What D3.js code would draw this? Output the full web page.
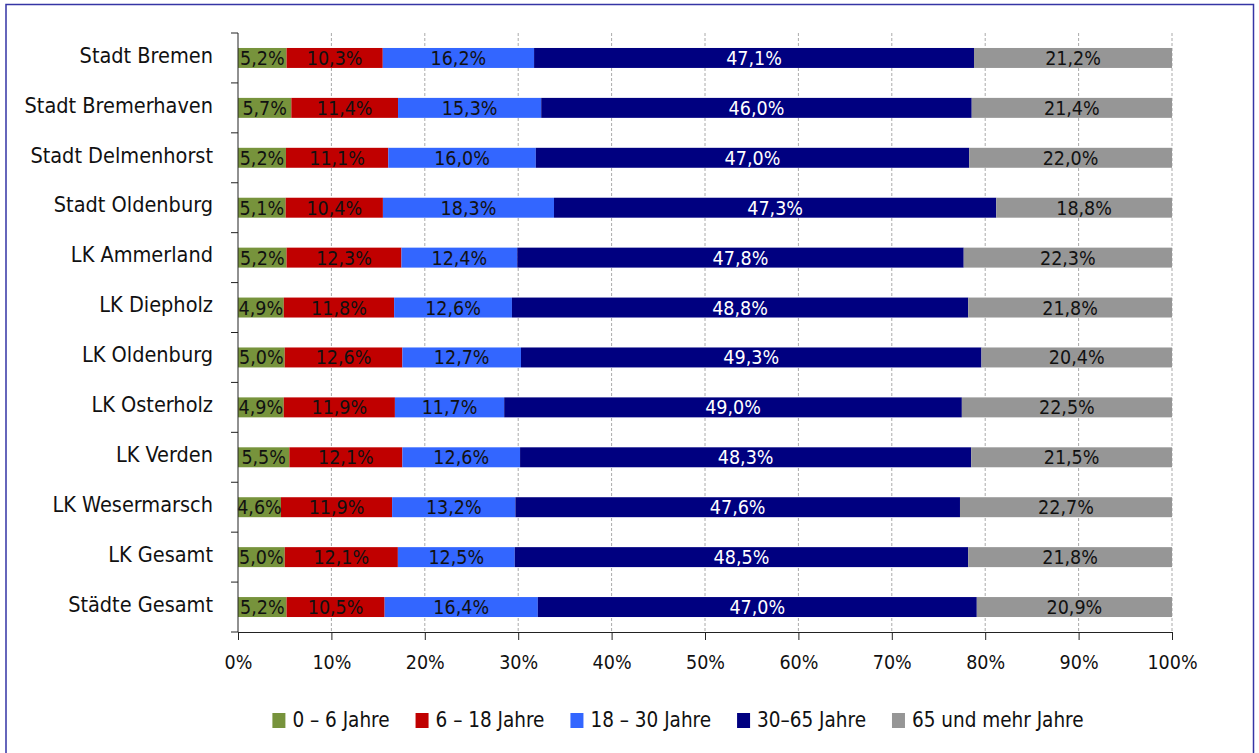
<!DOCTYPE html>
<html>
<head>
<meta charset="utf-8">
<script src="https://cdn.jsdelivr.net/npm/d3@7"></script>
<style>
  body { margin: 0; background: #fff; }
  svg text { font-family: "DejaVu Sans Condensed", "DejaVu Sans", sans-serif; font-stretch: condensed; }
</style>
</head>
<body>
<svg id="chart" width="1259" height="753"></svg>
<script>
// categories (top to bottom)
var regions = ['Stadt Bremen', 'Stadt Bremerhaven', 'Stadt Delmenhorst', 'Stadt Oldenburg',
    'LK Ammerland', 'LK Diepholz', 'LK Oldenburg', 'LK Osterholz', 'LK Verden',
    'LK Wesermarsch', 'LK Gesamt', 'Städte Gesamt'];

// age groups
var groups = ['0 – 6 Jahre', '6 – 18 Jahre', '18 – 30 Jahre', '30–65 Jahre', '65 und mehr Jahre'];
var groupColors = ['#77933C', '#C00000', '#3366FF', '#000080', '#969696'];
var labelColors = ['#111', '#111', '#111', '#fff', '#111'];

// shares in percent, one array per age group
var age0_6   = [5.2, 5.7, 5.2, 5.1, 5.2, 4.9, 5.0, 4.9, 5.5, 4.6, 5.0, 5.2];
var age6_18  = [10.3, 11.4, 11.1, 10.4, 12.3, 11.8, 12.6, 11.9, 12.1, 11.9, 12.1, 10.5];
var age18_30 = [16.2, 15.3, 16.0, 18.3, 12.4, 12.6, 12.7, 11.7, 12.6, 13.2, 12.5, 16.4];
var age30_65 = [47.1, 46.0, 47.0, 47.3, 47.8, 48.8, 49.3, 49.0, 48.3, 47.6, 48.5, 47.0];
var age65    = [21.2, 21.4, 22.0, 18.8, 22.3, 21.8, 20.4, 22.5, 21.5, 22.7, 21.8, 20.9];

var xTicks = [0, 0.1, 0.2, 0.3, 0.4, 0.5, 0.6, 0.7, 0.8, 0.9, 1];

var series = [age0_6, age6_18, age18_30, age30_65, age65];
var table = regions.map(function(r, i) {
    var row = { region: r };
    groups.forEach(function(g, j) { row[g] = series[j][i]; });
    return row;
});

var svg = d3.select('#chart');

// outer frame
svg.append('rect')
    .attr('x', 6).attr('y', 4.5)
    .attr('width', 1247.5).attr('height', 760)
    .attr('fill', 'none')
    .attr('stroke', '#3535A5')
    .attr('stroke-width', 1.5);

var margin = { top: 33, left: 238 },
    plotW = 934,
    plotH = 599;

var g = svg.append('g').attr('transform', 'translate(' + margin.left + ',' + margin.top + ')');

var xScale = d3.scaleLinear().domain([0, 1]).range([0, plotW]);
var yScale = d3.scaleBand().domain(regions).range([0, plotH]).paddingInner(0.6).paddingOuter(0.3);

// gridlines
g.append('g')
    .selectAll('line')
    .data(xTicks.slice(1))
    .enter().append('line')
    .attr('x1', function(d) { return xScale(d); })
    .attr('x2', function(d) { return xScale(d); })
    .attr('y1', 0).attr('y2', plotH)
    .attr('stroke', '#aaa')
    .attr('stroke-dasharray', '3,2');

var stack = d3.stack().keys(groups).offset(d3.stackOffsetExpand);
var layers = stack(table);

var layer = g.selectAll('g.layer')
    .data(layers)
    .enter().append('g')
    .attr('class', 'layer')
    .attr('fill', function(d, i) { return groupColors[i]; });

layer.selectAll('rect')
    .data(function(d) { return d; })
    .enter().append('rect')
    .attr('x', function(d) { return xScale(d[0]); })
    .attr('width', function(d) { return xScale(d[1]) - xScale(d[0]); })
    .attr('y', function(d) { return yScale(d.data.region); })
    .attr('height', yScale.bandwidth());

// value labels
layers.forEach(function(l, i) {
    g.append('g').selectAll('text')
        .data(l)
        .enter().append('text')
        .attr('x', function(d) { return xScale((d[0] + d[1]) / 2); })
        .attr('y', function(d) { return yScale(d.data.region) + yScale.bandwidth() / 2; })
        .attr('dy', '0.36em')
        .attr('text-anchor', 'middle')
        .attr('font-size', 19.5)
        .attr('fill', labelColors[i])
        .text(function(d) { return d3.format('.1f')(d.data[l.key]).replace('.', ',') + '%'; });
});

// y axis with ticks at band boundaries
var yAxisG = g.append('g');
yAxisG.append('line').attr('x1', 0).attr('x2', 0).attr('y1', 0).attr('y2', plotH).attr('stroke', '#222');
yAxisG.selectAll('line.tk')
    .data(d3.range(regions.length + 1))
    .enter().append('line')
    .attr('class', 'tk')
    .attr('x1', -7).attr('x2', 0)
    .attr('y1', function(d) { return d * plotH / regions.length; })
    .attr('y2', function(d) { return d * plotH / regions.length; })
    .attr('stroke', '#222');
yAxisG.selectAll('text')
    .data(regions)
    .enter().append('text')
    .attr('x', -25)
    .attr('y', function(d) { return yScale(d) + yScale.bandwidth() / 2 - 3; })
    .attr('dy', '0.36em')
    .attr('text-anchor', 'end')
    .attr('font-size', 21.5)
    .attr('fill', '#111')
    .text(function(d) { return d; });

// x axis
var xAxis = d3.axisBottom(xScale)
    .tickValues(xTicks)
    .tickSizeInner(8).tickSizeOuter(0)
    .tickPadding(15)
    .tickFormat(function(d) { return Math.round(d * 100) + '%'; });
var xAxisG = g.append('g')
    .attr('transform', 'translate(0,' + plotH + ')')
    .call(xAxis);
xAxisG.select('.domain').attr('stroke', '#222');
xAxisG.selectAll('.tick line').attr('stroke', '#222');
xAxisG.selectAll('text').attr('font-size', 19.5).attr('fill', '#111')
    .style('font-family', '"DejaVu Sans Condensed", "DejaVu Sans", sans-serif');

// legend
var legend = svg.append('g');
var items = legend.selectAll('g')
    .data(groups)
    .enter().append('g');
items.append('rect')
    .attr('width', 13).attr('height', 15)
    .attr('y', -14)
    .attr('fill', function(d, i) { return groupColors[i]; });
items.append('text')
    .attr('x', 20)
    .attr('font-size', 20.5)
    .attr('fill', '#111')
    .text(function(d) { return d; });
var xpos = 0;
items.each(function() {
    var w = this.getBBox().width;
    d3.select(this).attr('transform', 'translate(' + xpos + ',0)');
    xpos += w + 26;
});
var total = xpos - 26;
legend.attr('transform', 'translate(' + (678 - total / 2) + ',727)');
</script>
</body>
</html>
